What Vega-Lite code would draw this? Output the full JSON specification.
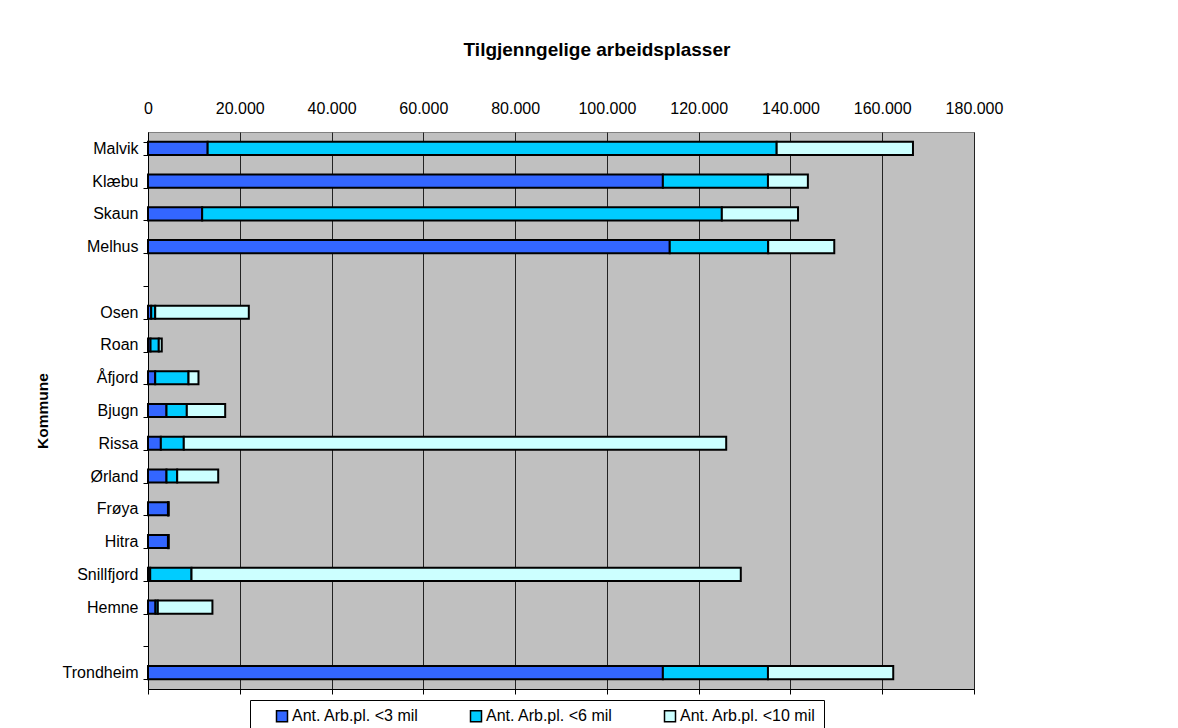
{
  "$schema": "https://vega.github.io/schema/vega-lite/v6.json",
  "width": 826,
  "height": 557,
  "autosize": {"type": "none"},
  "padding": {"left": 148, "top": 132, "right": 204, "bottom": 39},
  "background": "white",
  "title": {
    "text": "Tilgjenngelige arbeidsplasser",
    "anchor": "middle",
    "dx": 36,
    "offset": 40,
    "font": "Liberation Sans",
    "fontSize": 19,
    "fontWeight": "bold",
    "color": "black"
  },
  "data": {
    "values": [
      {"Kommune": "Malvik", "Serie": "Ant. Arb.pl. <3 mil", "n": 1, "Antall": 13000},
      {"Kommune": "Malvik", "Serie": "Ant. Arb.pl. <6 mil", "n": 2, "Antall": 124000},
      {"Kommune": "Malvik", "Serie": "Ant. Arb.pl. <10 mil", "n": 3, "Antall": 29700},
      {"Kommune": "Klæbu", "Serie": "Ant. Arb.pl. <3 mil", "n": 1, "Antall": 112200},
      {"Kommune": "Klæbu", "Serie": "Ant. Arb.pl. <6 mil", "n": 2, "Antall": 22900},
      {"Kommune": "Klæbu", "Serie": "Ant. Arb.pl. <10 mil", "n": 3, "Antall": 8700},
      {"Kommune": "Skaun", "Serie": "Ant. Arb.pl. <3 mil", "n": 1, "Antall": 11800},
      {"Kommune": "Skaun", "Serie": "Ant. Arb.pl. <6 mil", "n": 2, "Antall": 113250},
      {"Kommune": "Skaun", "Serie": "Ant. Arb.pl. <10 mil", "n": 3, "Antall": 16600},
      {"Kommune": "Melhus", "Serie": "Ant. Arb.pl. <3 mil", "n": 1, "Antall": 113700},
      {"Kommune": "Melhus", "Serie": "Ant. Arb.pl. <6 mil", "n": 2, "Antall": 21450},
      {"Kommune": "Melhus", "Serie": "Ant. Arb.pl. <10 mil", "n": 3, "Antall": 14400},
      {"Kommune": "Osen", "Serie": "Ant. Arb.pl. <3 mil", "n": 1, "Antall": 700},
      {"Kommune": "Osen", "Serie": "Ant. Arb.pl. <6 mil", "n": 2, "Antall": 870},
      {"Kommune": "Osen", "Serie": "Ant. Arb.pl. <10 mil", "n": 3, "Antall": 20400},
      {"Kommune": "Roan", "Serie": "Ant. Arb.pl. <3 mil", "n": 1, "Antall": 550},
      {"Kommune": "Roan", "Serie": "Ant. Arb.pl. <6 mil", "n": 2, "Antall": 1800},
      {"Kommune": "Roan", "Serie": "Ant. Arb.pl. <10 mil", "n": 3, "Antall": 650},
      {"Kommune": "Åfjord", "Serie": "Ant. Arb.pl. <3 mil", "n": 1, "Antall": 1570},
      {"Kommune": "Åfjord", "Serie": "Ant. Arb.pl. <6 mil", "n": 2, "Antall": 7260},
      {"Kommune": "Åfjord", "Serie": "Ant. Arb.pl. <10 mil", "n": 3, "Antall": 2170},
      {"Kommune": "Bjugn", "Serie": "Ant. Arb.pl. <3 mil", "n": 1, "Antall": 4030},
      {"Kommune": "Bjugn", "Serie": "Ant. Arb.pl. <6 mil", "n": 2, "Antall": 4430},
      {"Kommune": "Bjugn", "Serie": "Ant. Arb.pl. <10 mil", "n": 3, "Antall": 8360},
      {"Kommune": "Rissa", "Serie": "Ant. Arb.pl. <3 mil", "n": 1, "Antall": 2800},
      {"Kommune": "Rissa", "Serie": "Ant. Arb.pl. <6 mil", "n": 2, "Antall": 5000},
      {"Kommune": "Rissa", "Serie": "Ant. Arb.pl. <10 mil", "n": 3, "Antall": 118200},
      {"Kommune": "Ørland", "Serie": "Ant. Arb.pl. <3 mil", "n": 1, "Antall": 4030},
      {"Kommune": "Ørland", "Serie": "Ant. Arb.pl. <6 mil", "n": 2, "Antall": 2330},
      {"Kommune": "Ørland", "Serie": "Ant. Arb.pl. <10 mil", "n": 3, "Antall": 8940},
      {"Kommune": "Frøya", "Serie": "Ant. Arb.pl. <3 mil", "n": 1, "Antall": 4350},
      {"Kommune": "Frøya", "Serie": "Ant. Arb.pl. <6 mil", "n": 2, "Antall": 100},
      {"Kommune": "Frøya", "Serie": "Ant. Arb.pl. <10 mil", "n": 3, "Antall": 50},
      {"Kommune": "Hitra", "Serie": "Ant. Arb.pl. <3 mil", "n": 1, "Antall": 4350},
      {"Kommune": "Hitra", "Serie": "Ant. Arb.pl. <6 mil", "n": 2, "Antall": 100},
      {"Kommune": "Hitra", "Serie": "Ant. Arb.pl. <10 mil", "n": 3, "Antall": 50},
      {"Kommune": "Snillfjord", "Serie": "Ant. Arb.pl. <3 mil", "n": 1, "Antall": 480},
      {"Kommune": "Snillfjord", "Serie": "Ant. Arb.pl. <6 mil", "n": 2, "Antall": 9000},
      {"Kommune": "Snillfjord", "Serie": "Ant. Arb.pl. <10 mil", "n": 3, "Antall": 119700},
      {"Kommune": "Hemne", "Serie": "Ant. Arb.pl. <3 mil", "n": 1, "Antall": 1630},
      {"Kommune": "Hemne", "Serie": "Ant. Arb.pl. <6 mil", "n": 2, "Antall": 510},
      {"Kommune": "Hemne", "Serie": "Ant. Arb.pl. <10 mil", "n": 3, "Antall": 11900},
      {"Kommune": "Trondheim", "Serie": "Ant. Arb.pl. <3 mil", "n": 1, "Antall": 112200},
      {"Kommune": "Trondheim", "Serie": "Ant. Arb.pl. <6 mil", "n": 2, "Antall": 22900},
      {"Kommune": "Trondheim", "Serie": "Ant. Arb.pl. <10 mil", "n": 3, "Antall": 27300}
    ]
  },
  "encoding": {
    "y": {
      "field": "Kommune",
      "type": "nominal",
      "scale": {
        "domain": ["Malvik", "Klæbu", "Skaun", "Melhus", " ", "Osen", "Roan", "Åfjord", "Bjugn", "Rissa", "Ørland", "Frøya", "Hitra", "Snillfjord", "Hemne", "  ", "Trondheim"],
        "paddingInner": 0.6,
        "paddingOuter": 0.3
      },
      "axis": {
        "title": "Kommune",
        "titleFont": "Liberation Sans",
        "titleFontSize": 15.5,
        "titleFontWeight": "bold",
        "titleColor": "black",
        "titleAngle": -90,
        "titleBaseline": "middle",
        "titleX": -106,
        "titleY": 278.5,
        "tickBand": "extent",
        "ticks": true,
        "tickSize": 5,
        "tickColor": "black",
        "domainColor": "black",
        "labelPadding": 5,
        "grid": false
      }
    },
    "color": {
      "field": "Serie",
      "type": "nominal",
      "scale": {
        "domain": ["Ant. Arb.pl. <3 mil", "Ant. Arb.pl. <6 mil", "Ant. Arb.pl. <10 mil"],
        "range": ["#3366FF", "#00CCFF", "#CCFFFF"]
      },
      "legend": {
        "orient": "none",
        "legendX": 102,
        "legendY": 568,
        "direction": "horizontal",
        "columns": 3,
        "columnPadding": 48,
        "padding": 8,
        "strokeColor": "black",
        "fillColor": "white",
        "title": " ",
        "titleOrient": "left",
        "titlePadding": 16,
        "labelFont": "Liberation Sans",
        "labelFontSize": 16,
        "labelColor": "black",
        "labelOffset": 2,
        "labelExpr": "datum.label == 'Ant. Arb.pl. <10 mil' ? datum.label + '\u00a0\u00a0\u00a0\u00a0\u00a0' : datum.label",
        "symbolType": "square",
        "symbolSize": 121,
        "symbolStrokeColor": "black",
        "symbolStrokeWidth": 1.5
      }
    },
    "order": {"field": "n", "type": "quantitative"}
  },
  "layer": [
    {
      "mark": {"type": "bar", "stroke": "black", "strokeWidth": 2},
      "encoding": {
        "x": {
          "field": "Antall",
          "type": "quantitative",
          "stack": "zero",
          "scale": {"domain": [0, 180000], "nice": false},
          "axis": {
            "orient": "top",
            "title": null,
            "values": [0, 20000, 40000, 60000, 80000, 100000, 120000, 140000, 160000, 180000],
            "labelExpr": "replace(format(datum.value, ','), ',', '.')",
            "ticks": false,
            "domain": false,
            "grid": true,
            "gridColor": "#222222",
            "gridWidth": 1,
            "labelPadding": 16,
            "labelFlush": false
          }
        }
      }
    },
    {
      "mark": {"type": "bar", "opacity": 0},
      "encoding": {
        "x": {
          "field": "Antall",
          "type": "quantitative",
          "stack": "zero",
          "axis": {
            "orient": "bottom",
            "title": null,
            "values": [0, 20000, 40000, 60000, 80000, 100000, 120000, 140000, 160000, 180000],
            "labels": false,
            "ticks": true,
            "tickSize": 5,
            "tickColor": "black",
            "domain": true,
            "domainColor": "black",
            "grid": false
          }
        }
      }
    }
  ],
  "resolve": {"axis": {"x": "independent"}},
  "config": {
    "font": "Liberation Sans",
    "view": {"stroke": "#808080", "fill": "#C0C0C0", "strokeWidth": 1},
    "axis": {
      "labelFont": "Liberation Sans",
      "labelFontSize": 16,
      "labelColor": "black"
    }
  }
}
